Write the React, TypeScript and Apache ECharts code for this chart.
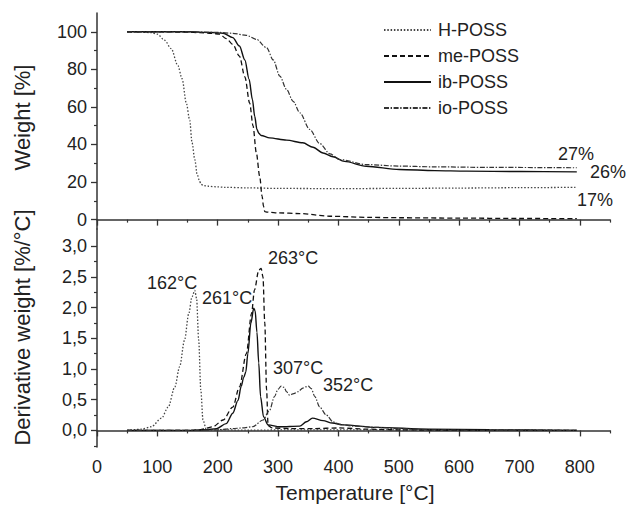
import React, { useEffect, useRef } from "react";
import * as echarts from "echarts";

// ---------- DATA ----------
const seriesNames = ["H-POSS", "me-POSS", "ib-POSS", "io-POSS"];

// TGA (weight %) curves
const hTgaT = [50, 70, 90, 100, 112, 123, 134, 141, 148, 153.6, 157.5, 162, 166, 170, 172, 176, 183, 200, 211, 250, 300, 400, 500, 600, 700, 795];
const hTgaW = [100, 100, 99.5, 98.7, 95.5, 91, 82, 75, 62, 53, 41, 32, 24, 20.5, 19, 18.2, 17.8, 17.4, 17.2, 16.9, 16.6, 16.5, 16.6, 16.8, 17, 17.2];

const meTgaT = [50, 100, 150, 170, 190, 203, 214, 225, 236, 245, 253, 258.5, 264, 269.6, 273.5, 276, 278, 282, 286, 300, 336, 386, 450, 500, 600, 700, 795];
const meTgaW = [100, 100, 99.8, 99.5, 99.2, 98.7, 96.4, 93.3, 87, 76, 62, 50, 35.5, 23, 12.5, 7, 4.3, 4, 3.9, 3.6, 3.2, 1.8, 1.2, 1.0, 0.8, 0.6, 0.5];

const ibTgaT = [50, 100, 150, 190, 209, 225, 236, 245, 252, 257.5, 261.3, 265, 268, 272, 286, 314, 341, 358, 374.5, 391, 410, 446, 501, 560, 612, 700, 795];
const ibTgaW = [100, 100, 100, 99.6, 99.2, 96.9, 92.4, 85, 74.7, 64, 55, 48, 46, 44.8, 43.5, 42.3, 40.9, 38.5, 35.5, 33.5, 31, 28.4, 26.7, 26.1, 25.8, 25.6, 25.4];

const ioTgaT = [50, 100, 150, 200, 225, 247.5, 264, 281, 292, 303, 314, 325, 336, 352.5, 369, 386, 402, 446, 500, 557, 650, 795];
const ioTgaW = [100, 100, 100, 99.7, 99.2, 98.1, 96, 91.5, 85, 76.4, 69.3, 63, 56.9, 48, 40.5, 35, 32, 29.3, 28.5, 28.1, 27.8, 27.6];

// DTG (derivative weight %/°C) curves
const hDtgT = [50, 73.5, 90, 107, 118, 129, 137, 145, 152, 157.5, 162, 165, 168.5, 172, 175.6, 181, 190, 250, 350, 450, 600, 795];
const hDtgV = [0, 0.02, 0.06, 0.2, 0.38, 0.71, 1.04, 1.47, 1.9, 2.18, 2.28, 2.15, 1.47, 0.66, 0.17, 0.02, 0.01, 0.005, 0.01, 0.01, 0, 0];

const meDtgT = [50, 150, 170, 192, 209, 225, 236, 247.5, 256, 261, 268, 272, 275, 278, 281, 283.5, 290, 320, 360, 400, 450, 500, 600, 795];
const meDtgV = [0, 0, 0.01, 0.06, 0.17, 0.38, 0.71, 1.25, 1.9, 2.29, 2.61, 2.64, 2.5, 1.75, 0.66, 0.08, 0.04, 0.03, 0.03, 0.04, 0.02, 0.01, 0, 0];

const ibDtgT = [50, 150, 180, 198, 214, 225, 233.6, 239, 243, 246.5, 250, 255, 259.7, 262, 265, 268, 271, 276, 283.5, 303, 336, 347, 357, 374.5, 390, 408, 463, 550, 650, 795];
const ibDtgV = [0, 0, 0.01, 0.03, 0.11, 0.28, 0.49, 0.72, 0.86, 0.95, 1.25, 1.75, 1.99, 1.95, 1.6, 1.1, 0.55, 0.22, 0.09, 0.06, 0.07, 0.14, 0.2, 0.16, 0.12, 0.09, 0.05, 0.02, 0.01, 0];

const ioDtgT = [50, 150, 200, 225, 240, 258, 275, 286, 294, 300, 305, 310, 314, 319, 326, 333, 341, 346, 350, 355, 361, 369, 380, 391, 402, 424, 463, 496, 550, 650, 795];
const ioDtgV = [0, 0, 0.01, 0.03, 0.04, 0.06, 0.17, 0.33, 0.55, 0.67, 0.72, 0.7, 0.63, 0.575, 0.6, 0.63, 0.69, 0.71, 0.72, 0.68, 0.55, 0.38, 0.25, 0.14, 0.1, 0.07, 0.05, 0.03, 0.01, 0, 0];

// Tick values
const xMajor = [0, 100, 200, 300, 400, 500, 600, 700, 800];
const xMinor = [50, 150, 250, 350, 450, 550, 650, 750, 850];
const wMajor = [0, 20, 40, 60, 80, 100];
const wMinor = [10, 30, 50, 70, 90];
const dMajor = [0, 0.5, 1.0, 1.5, 2.0, 2.5, 3.0];
const dMinor = [-0.25, 0.25, 0.75, 1.25, 1.75, 2.25, 2.75];

// Annotations
const residueLabels = ["27%", "26%", "17%"];
const peakLabels = ["162°C", "261°C", "263°C", "307°C", "352°C"];

// ---------- STYLE ----------
const FONT = "'Liberation Sans', Arial, Helvetica, sans-serif";
const INK = "#222";
const lineStyles: any[] = [
  { color: "#444", width: 1.3, type: [1.5, 1.8] },
  { color: "#111", width: 1.3, type: [5, 3] },
  { color: "#111", width: 1.4, type: "solid" },
  { color: "#333", width: 1.2, type: [5, 1.6, 1.4, 1.6] },
];

const pairs = (t: number[], v: number[]) => t.map((x, i) => [x, v[i]]);

export default function App() {
  const ref = useRef<HTMLDivElement>(null);

  useEffect(() => {
    if (!ref.current) return;
    const chart = echarts.init(ref.current, null, { renderer: "svg" });

    const gridLeft = 97;
    const gridW = 513;
    const grids = [
      { left: gridLeft, top: 13, width: gridW, height: 216 },
      { left: gridLeft, top: 229, width: gridW, height: 218 },
    ];

    const axisLine = { show: true, lineStyle: { color: "#333", width: 1.5 } };
    const labelStyle = { color: INK, fontSize: 18, fontFamily: FONT };

    const xAxes: any[] = [];
    [0, 1].forEach((g) => {
      xAxes.push({
        type: "value",
        gridIndex: g,
        position: "bottom",
        min: 0,
        max: 850,
        axisLine,
        splitLine: { show: false },
        axisTick: { show: true, length: 6, customValues: xMajor, lineStyle: { color: "#333", width: 1.3 } },
        axisLabel: g === 1
          ? { show: true, customValues: xMajor, margin: 11, ...labelStyle }
          : { show: false },
      });
      xAxes.push({
        type: "value",
        gridIndex: g,
        position: "bottom",
        offset: 0,
        min: 0,
        max: 850,
        axisLine: { show: false },
        splitLine: { show: false },
        axisTick: { show: true, length: 3, customValues: xMinor, lineStyle: { color: "#333", width: 1.2 } },
        axisLabel: { show: false },
      });
    });

    const yAxes: any[] = [
      {
        type: "value",
        gridIndex: 0,
        position: "left",
        min: -5,
        max: 110,
        axisLine,
        splitLine: { show: false },
        axisTick: { show: true, length: 6, customValues: wMajor, lineStyle: { color: "#333", width: 1.3 } },
        axisLabel: { show: true, customValues: wMajor, margin: 10, ...labelStyle },
      },
      {
        type: "value",
        gridIndex: 0,
        position: "left",
        offset: 0,
        min: -5,
        max: 110,
        axisLine: { show: false },
        splitLine: { show: false },
        axisTick: { show: true, length: 3, customValues: wMinor, lineStyle: { color: "#333", width: 1.2 } },
        axisLabel: { show: false },
      },
      {
        type: "value",
        gridIndex: 1,
        position: "left",
        min: -0.27,
        max: 3.28,
        axisLine,
        splitLine: { show: false },
        axisTick: { show: true, length: 6, customValues: dMajor, lineStyle: { color: "#333", width: 1.3 } },
        axisLabel: {
          show: true,
          customValues: dMajor,
          margin: 10,
          ...labelStyle,
          formatter: (v: number) => v.toFixed(1).replace(".", ","),
        },
      },
      {
        type: "value",
        gridIndex: 1,
        position: "left",
        offset: 0,
        min: -0.27,
        max: 3.28,
        axisLine: { show: false },
        splitLine: { show: false },
        axisTick: { show: true, length: 3, customValues: dMinor, lineStyle: { color: "#333", width: 1.2 } },
        axisLabel: { show: false },
      },
    ];

    const tga = [pairs(hTgaT, hTgaW), pairs(meTgaT, meTgaW), pairs(ibTgaT, ibTgaW), pairs(ioTgaT, ioTgaW)];
    const dtg = [pairs(hDtgT, hDtgV), pairs(meDtgT, meDtgV), pairs(ibDtgT, ibDtgV), pairs(ioDtgT, ioDtgV)];

    const series: any[] = [];
    seriesNames.forEach((name, i) => {
      series.push({
        name,
        type: "line",
        xAxisIndex: 0,
        yAxisIndex: 0,
        data: tga[i],
        showSymbol: false,
        symbol: "none",
        smooth: 0.3,
        smoothMonotone: "x",
        lineStyle: lineStyles[i],
        itemStyle: { color: lineStyles[i].color },
      });
    });
    seriesNames.forEach((name, i) => {
      series.push({
        name,
        type: "line",
        xAxisIndex: 2,
        yAxisIndex: 2,
        data: dtg[i],
        showSymbol: false,
        symbol: "none",
        smooth: 0.3,
        smoothMonotone: "x",
        lineStyle: lineStyles[i],
        itemStyle: { color: lineStyles[i].color },
      });
    });

    const txt = (text: string, x: number, y: number, extra: any = {}) => ({
      type: "text",
      x,
      y,
      silent: true,
      style: {
        text,
        fill: INK,
        font: `${extra.size || 18}px ${FONT}`,
        align: extra.align || "left",
        verticalAlign: "middle",
      },
      rotation: extra.rotation || 0,
    });

    const residuePos = [
      [558, 154],
      [590, 172],
      [577, 200],
    ];
    const peakPos = [
      [147, 283],
      [202, 298],
      [268, 258],
      [273, 368],
      [323, 385],
    ];

    const graphics: any[] = [
      ...residueLabels.map((t, i) => txt(t, residuePos[i][0], residuePos[i][1])),
      ...peakLabels.map((t, i) => txt(t, peakPos[i][0], peakPos[i][1])),
      txt("Weight [%]", 22, 117.5, { size: 22, align: "center", rotation: Math.PI / 2 }),
      txt("Derivative weight [%/°C]", 22, 327.5, { size: 22, align: "center", rotation: Math.PI / 2 }),
      txt("Temperature [°C]", 355, 492, { size: 21, align: "center" }),
    ];

    chart.setOption({
      animation: false,
      backgroundColor: "#fff",
      grid: grids,
      xAxis: xAxes,
      yAxis: yAxes,
      legend: {
        orient: "vertical",
        left: 383,
        top: 21,
        padding: 0,
        data: seriesNames.map((n) => ({ name: n, itemStyle: { opacity: 0 } })),
        itemWidth: 47,
        itemHeight: 14,
        itemGap: 8,
        itemStyle: { opacity: 0, borderWidth: 0 },
        textStyle: { color: INK, fontSize: 18, fontFamily: FONT, lineHeight: 18, padding: [0, 0, 0, 2] },
        selectedMode: false,
      },
      series,
      graphic: graphics,
    });

    return () => chart.dispose();
  }, []);

  return (
    <div
      ref={ref}
      style={{ position: "fixed", left: 0, top: 0, width: 628, height: 506, background: "#fff" }}
    />
  );
}
